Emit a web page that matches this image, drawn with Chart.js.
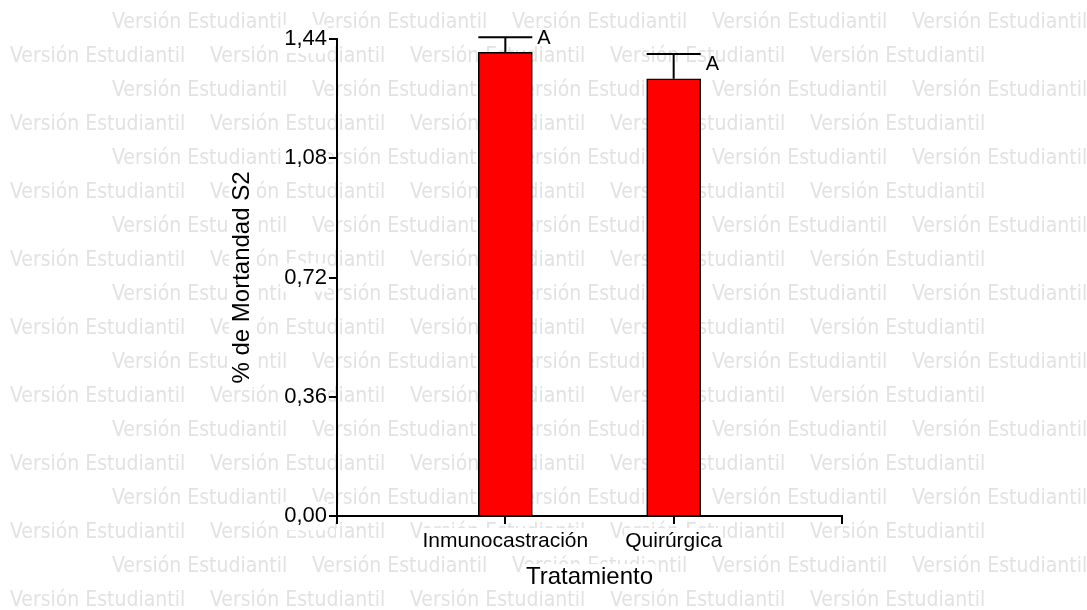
<!DOCTYPE html>
<html>
<head>
<meta charset="utf-8">
<script src="https://cdn.jsdelivr.net/npm/chart.js@4/dist/chart.umd.min.js"></script>
<style>
  html, body { margin: 0; padding: 0; background: #fff; }
  #wrap { width: 1087px; height: 610px; position: relative; }
</style>
</head>
<body>
<div id="wrap"><canvas id="chart"></canvas></div>
<script>
// data
const categories = ['Inmunocastración', 'Quirúrgica'];
const means = [1.40, 1.32];
const errUp = [0.045, 0.075];
const letters = ['A', 'A'];
const yTicks = [0, 0.36, 0.72, 1.08, 1.44];

// category axis with an empty slot at each end so the bars sit at 1/3 and 2/3
const labels = ['', ...categories, ''];
const values = [null, ...means, null];
const errs = [null, ...errUp, null];
const tags = [null, ...letters, null];

const FONT = "'Liberation Sans', Arial, sans-serif";
const WM = 'Versión Estudiantil';

const watermark = {
  id: 'watermark',
  beforeDraw(chart) {
    const ctx = chart.ctx;
    ctx.save();
    ctx.fillStyle = '#fff';
    ctx.fillRect(0, 0, chart.width, chart.height);
    ctx.font = "21px 'DejaVu Sans Condensed', 'DejaVu Sans', sans-serif";
    if ('fontStretch' in ctx) ctx.fontStretch = 'condensed';
    ctx.fillStyle = 'rgb(226,226,226)';
    ctx.textBaseline = 'middle';
    ctx.textAlign = 'left';
    for (let k = 0; k < 18; k++) {
      const y = 23 + 34 * k;
      const x0 = k % 2 === 0 ? 112 : 10;
      for (let j = 0; j < 5; j++) ctx.fillText(WM, x0 + 200 * j, y);
    }
    // white boxes behind the axis titles
    ctx.fillStyle = '#fff';
    ctx.font = '24px ' + FONT;
    const wx = ctx.measureText('Tratamiento').width;
    ctx.fillRect(589 - wx / 2 - 3, 564, wx + 6, 27);
    const wy = ctx.measureText('% de Mortandad S2').width;
    ctx.fillRect(229, 278 - wy / 2 - 3, 27, wy + 6);
    ctx.restore();
  }
};

const errorBars = {
  id: 'errorBars',
  afterDatasetsDraw(chart) {
    const ctx = chart.ctx;
    const meta = chart.getDatasetMeta(0);
    const y = chart.scales.y;
    ctx.save();
    ctx.strokeStyle = '#000';
    ctx.lineWidth = 2;
    ctx.fillStyle = '#000';
    ctx.font = '20px ' + FONT;
    ctx.textAlign = 'left';
    ctx.textBaseline = 'middle';
    meta.data.forEach((bar, i) => {
      if (values[i] == null) return;
      const half = bar.width / 2;
      const top = y.getPixelForValue(values[i]);
      const cap = y.getPixelForValue(values[i] + errs[i]);
      ctx.beginPath();
      ctx.moveTo(bar.x, top);
      ctx.lineTo(bar.x, cap);
      ctx.moveTo(bar.x - half, cap);
      ctx.lineTo(bar.x + half, cap);
      ctx.stroke();
      ctx.fillText(tags[i], bar.x + half + 5, top - 14);
    });
    ctx.restore();
  }
};

new Chart(document.getElementById('chart'), {
  type: 'bar',
  data: {
    labels: labels,
    datasets: [{
      data: values,
      backgroundColor: '#ff0000',
      borderColor: '#000',
      borderWidth: 1.5,
      barThickness: 54
    }]
  },
  options: {
    responsive: true,
    maintainAspectRatio: false,
    animation: false,
    layout: { padding: { top: 39, right: 245, left: 0, bottom: 0 } },
    plugins: { legend: { display: false }, tooltip: { enabled: false } },
    scales: {
      x: {
        offset: false,
        grid: { offset: false, drawOnChartArea: false, color: '#000', lineWidth: 2, tickLength: 8 },
        border: { color: '#000', width: 2 },
        ticks: {
          color: '#000',
          font: { family: FONT, size: 21 },
          padding: 5,
          maxRotation: 0,
          autoSkip: false,
          showLabelBackdrop: true,
          backdropColor: '#fff',
          backdropPadding: 1
        },
        title: { display: true, text: 'Tratamiento', color: '#000', font: { family: FONT, size: 24 }, padding: { top: 0, bottom: 18 } },
        afterFit(scale) { scale.height = 94; }
      },
      y: {
        min: 0,
        max: 1.44,
        afterBuildTicks(scale) { scale.ticks = yTicks.map(v => ({ value: v })); },
        grid: { drawOnChartArea: false, color: '#000', lineWidth: 2, tickLength: 8 },
        border: { color: '#000', width: 2 },
        ticks: {
          color: '#000',
          font: { family: FONT, size: 22 },
          padding: 2,
          showLabelBackdrop: true,
          backdropColor: '#fff',
          backdropPadding: 1,
          callback: v => v.toFixed(2).replace('.', ',')
        },
        title: { display: true, text: '% de Mortandad S2', color: '#000', font: { family: FONT, size: 24 }, padding: { top: 228, bottom: 0 } },
        afterFit(scale) { scale.width = 337; }
      }
    }
  },
  plugins: [watermark, errorBars]
});
</script>
</body>
</html>
